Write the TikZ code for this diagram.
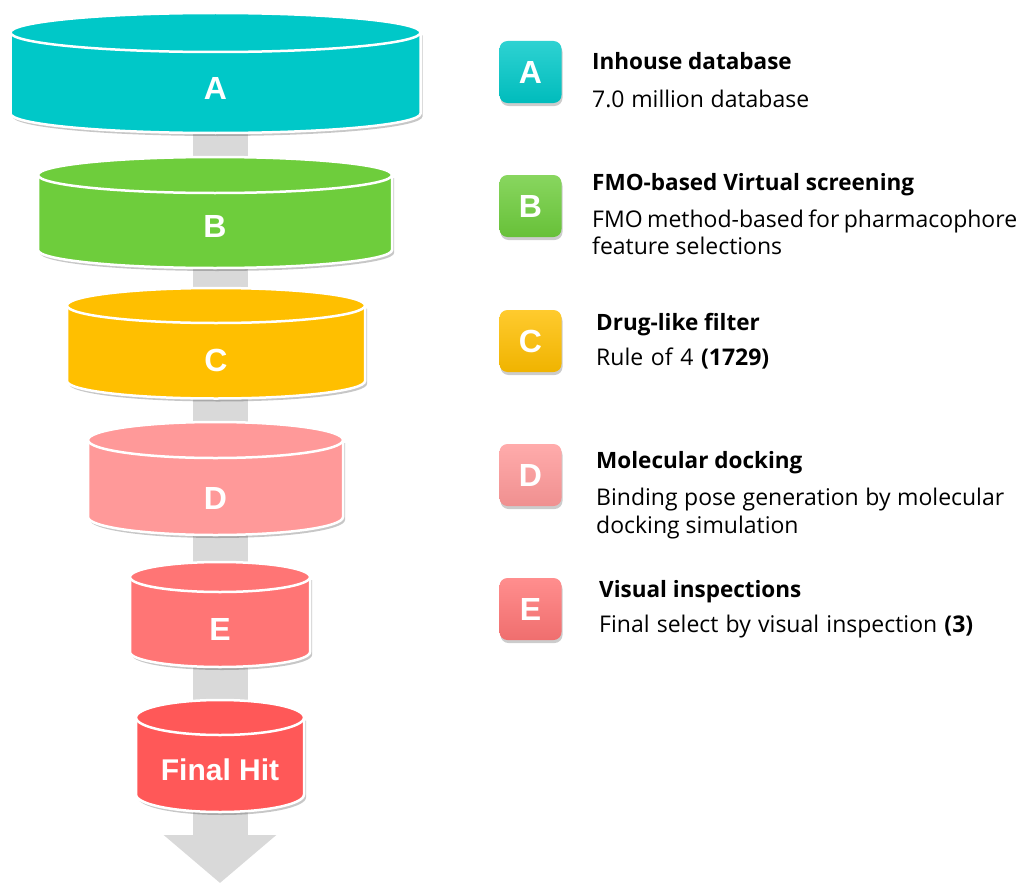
\documentclass[tikz,border=0pt]{standalone}
\usepackage{fontspec}
\setmainfont{Open Sans}
\newfontfamily\arialfont{Liberation Sans}
\usepackage{tikz}
\usetikzlibrary{arrows.meta,shadows}

\definecolor{drumA}{HTML}{00C8C8}
\definecolor{drumB}{HTML}{6ECD3C}
\definecolor{drumC}{HTML}{FFBF00}
\definecolor{drumD}{HTML}{FF9999}
\definecolor{drumE}{HTML}{FF7575}
\definecolor{drumHit}{HTML}{FF5858}
\definecolor{stemgray}{HTML}{D9D9D9}

% #1 centre x, #2 top y, #3 bottom y, #4 half width, #5 y radius, #6 colour
\newcommand{\drum}[6]{%
	\path[drumface, fill=#6, drop shadow={shadow xshift=2pt, shadow yshift=-3pt, opacity=0.22, fill=black}]
		(#1-#4,#2) -- (#1-#4,#3) arc[start angle=180, end angle=0, x radius=#4, y radius=#5]
		-- (#1+#4,#2) -- cycle;
	\path[drumface, fill=#6] (#1,#2) ellipse[x radius=#4, y radius=#5];
}

\begin{document}
\begin{tikzpicture}[x=1pt,y=-1pt]
	\useasboundingbox (0,0) rectangle (1023,883);
	\begin{scope}
		[
			stem/.style={draw=stemgray, line width=55pt,
				-{Triangle[width=110pt,length=48pt]}},
			drumface/.style={draw=white, line width=2.5pt},
			drumlabel/.style={text=white, font=\arialfont\bfseries\fontsize{32}{32}\selectfont},
		]
		\coordinate (stemtop) at (220,90);
		\coordinate (tip) at (220,883);
		\draw[stem] (stemtop) -- (tip);

		\drum{215.5}{32.5}{113.5}{205}{19.5}{drumA}
		\drum{215}{175}{250}{177}{18}{drumB}
		\drum{216}{305.5}{381}{149}{17.5}{drumC}
		\drum{215.5}{440}{517}{127.5}{18}{drumD}
		\drum{220}{577}{652}{90}{15}{drumE}
		\drum{220}{717.5}{794.5}{84}{17.5}{drumHit}

		\node(cA)[drumlabel] at (215.5,88) {A};
		\node(cB)[drumlabel] at (215,226) {B};
		\node(cC)[drumlabel] at (216,360) {C};
		\node(cD)[drumlabel] at (215.5,498) {D};
		\node(cE)[drumlabel] at (220,629) {E};
		\node(cHit)[drumlabel, font=\arialfont\bfseries\fontsize{30}{30}\selectfont] at (220,770) {Final Hit};
	\end{scope}
	\begin{scope}
		[
			keybox/.style={rounded corners=8pt, minimum size=62pt, inner sep=0pt,
				top color=#1!82!white, bottom color=#1!94!black,
				text=white, font=\arialfont\bfseries\fontsize{32}{32}\selectfont,
				drop shadow={shadow xshift=1pt, shadow yshift=-3pt, opacity=0.2, fill=black}},
			keytitle/.style={anchor=base west, inner sep=0pt, font=\bfseries\fontsize{22.5}{26}\selectfont},
			keytext/.style={anchor=base west, inner sep=0pt, font=\fontsize{23}{27}\selectfont},
		]
		\node(kA)[keybox=drumA] at (530.5,72) {A};
		\node(kB)[keybox=drumB] at (530.5,206) {B};
		\node(kC)[keybox=drumC] at (530.5,341) {C};
		\node(kD)[keybox=drumD] at (530.5,475) {D};
		\node(kE)[keybox=drumE] at (530.5,609) {E};

		\node(tA)[keytitle] at (592,70) {Inhouse database};
		\node(dA)[keytext] at (592,107) {\makebox[217pt][s]{7.0 million database}};

		\node(tB)[keytitle] at (592,190) {FMO-based Virtual screening};
		\node(dB)[keytext] at (592,227) {\makebox[425pt][s]{FMO method-based for pharmacophore}};
		\node(dBb)[keytext] at (592,254) {feature selections};

		\node(tC)[keytitle] at (596,330) {Drug-like filter};
		\node(dC)[keytext] at (596,365) {\makebox[173pt][s]{Rule of 4 \textbf{(1729)}}};

		\node(tD)[keytitle] at (596,468) {Molecular docking};
		\node(dD)[keytext] at (596,505) {\makebox[408pt][s]{Binding pose generation by molecular}};
		\node(dDb)[keytext] at (596,533) {docking simulation};

		\node(tE)[keytitle] at (599,597) {Visual inspections};
		\node(dE)[keytext] at (599,632) {\makebox[374pt][s]{Final select by visual inspection \textbf{(3)}}};
	\end{scope}
\end{tikzpicture}
\end{document}
